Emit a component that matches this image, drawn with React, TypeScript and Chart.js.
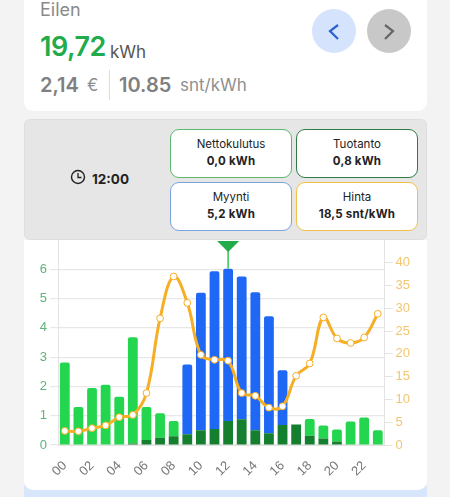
import React, { useEffect, useRef } from "react";
import { Chart, registerables } from "chart.js";

Chart.register(...registerables);

const hours = ["00","01","02","03","04","05","06","07","08","09","10","11","12","13","14","15","16","17","18","19","20","21","22","23"];
const production = [0,0,0,0,0,0.05,0.17,0.25,0.3,0.37,0.5,0.55,0.82,0.88,0.5,0.4,0.68,0.7,0.32,0.22,0.12,0,0,0];
const netConsumption = [2.82,1.3,1.95,2.06,1.65,3.63,1.13,0.83,0.52,0,0,0,0,0,0,0,0,0,0.57,0.45,0.41,0.8,0.94,0.5];
const sold = [0,0,0,0,0,0,0,0,0,2.38,4.7,5.38,5.2,4.87,4.72,4.0,1.87,0,0,0,0,0,0,0];
const price = [3.1,3.0,3.7,4.3,6.1,6.6,11.4,27.8,37,31.2,19.8,18.7,18.5,11.4,10.8,8.2,8.5,15.2,17.9,28,23.4,22.4,23.6,28.8];
const selectedHour = 12;

const FONT = "Inter, 'Noto Sans', sans-serif";
const TICK_FONT = "'Liberation Sans', sans-serif";

const markerPlugin = {
  id: "marker",
  afterDatasetsDraw(chart: any) {
    const { ctx, scales } = chart;
    const x = scales.x.getPixelForValue(selectedHour);
    const top = scales.y.getPixelForValue(production[selectedHour] + sold[selectedHour] + netConsumption[selectedHour]);
    ctx.save();
    ctx.strokeStyle = "#2fc45a";
    ctx.lineWidth = 1.5;
    ctx.beginPath();
    ctx.moveTo(x, 8);
    ctx.lineTo(x, top);
    ctx.stroke();
    ctx.fillStyle = "#22ab4a";
    ctx.beginPath();
    ctx.moveTo(x - 11, 1);
    ctx.lineTo(x + 11, 1);
    ctx.lineTo(x, 12);
    ctx.closePath();
    ctx.fill();
    ctx.restore();
  },
};

function Box(p: { left: number; top: number; color: string; title: string; value: string }) {
  return (
    <div style={{ position: "absolute", left: p.left, top: p.top, width: 122, height: 49, boxSizing: "border-box", border: `1.5px solid ${p.color}`, borderRadius: 9, background: "#fff", textAlign: "center", color: "#222" }}>
      <div style={{ fontSize: 11.5, lineHeight: "14px", marginTop: 7 }}>{p.title}</div>
      <div style={{ fontSize: 11.5, lineHeight: "14px", marginTop: 3, fontWeight: 700, letterSpacing: 0.2 }}>{p.value}</div>
    </div>
  );
}

const abs = (left: number, top: number, extra: React.CSSProperties): React.CSSProperties => ({ position: "absolute", left, top, whiteSpace: "nowrap", ...extra });

export default function App() {
  const ref = useRef<HTMLCanvasElement>(null);
  useEffect(() => {
    document.body.style.margin = "0";
    document.body.style.background = "#f3f3f3";
    const chart = new Chart(ref.current!, {
      type: "bar",
      data: {
        labels: hours,
        datasets: [
          { type: "line", label: "Hinta", data: price, yAxisID: "y1", borderColor: "#f6ae24", borderWidth: 3, tension: 0.4, pointRadius: 3.4, pointBorderWidth: 1, pointBackgroundColor: "#fff", pointBorderColor: "#f6ae24", order: 0 },
          { label: "Tuotanto", data: production, backgroundColor: "#147f2e", stack: "s", yAxisID: "y", barPercentage: 0.72, categoryPercentage: 1, borderRadius: 0, order: 1 },
          { label: "Myynti", data: sold, backgroundColor: "#1f68f5", stack: "s", yAxisID: "y", barPercentage: 0.72, categoryPercentage: 1, borderRadius: { topLeft: 2, topRight: 2 }, borderSkipped: false, order: 1 },
          { label: "Nettokulutus", data: netConsumption, backgroundColor: "#24d64f", stack: "s", yAxisID: "y", barPercentage: 0.72, categoryPercentage: 1, borderRadius: { topLeft: 2, topRight: 2 }, borderSkipped: false, order: 1 },
        ] as any,
      },
      plugins: [markerPlugin],
      options: {
        animation: false,
        responsive: false,
        layout: { autoPadding: false, padding: 0 },
        plugins: { legend: { display: false }, tooltip: { enabled: false } },
        scales: {
          x: {
            stacked: true,
            grid: { display: false, drawTicks: false },
            border: { color: "#e3e3e3" },
            ticks: { autoSkip: false, maxRotation: 45, minRotation: 45, padding: 13, color: "#777", font: { size: 13, family: TICK_FONT }, callback: (_v: any, i: number) => (i % 2 === 0 ? hours[i] : "") },
            afterFit: (s: any) => { s.height = 45; s.paddingLeft = 0; s.paddingRight = 0; },
          },
          y: {
            stacked: true,
            min: 0,
            max: 7,
            ticks: { stepSize: 1, padding: 3, color: "#5fb27a", font: { size: 13, family: TICK_FONT }, callback: (v: any) => (v === 7 ? "" : v) },
            grid: { color: (c: any) => (c.tick.value === 7 ? "transparent" : "#e8e8e8"), tickLength: 8, lineWidth: 1.2 },
            border: { color: "#e3e3e3" },
            afterFit: (s: any) => { s.width = 34; s.paddingTop = 0; s.paddingBottom = 0; },
          },
          y1: {
            position: "right",
            min: 0,
            max: 45,
            ticks: { stepSize: 5, padding: 3, color: "#f2c66f", font: { size: 13, family: TICK_FONT }, callback: (v: any) => (v === 45 ? "" : v) },
            grid: { drawOnChartArea: false, color: (c: any) => (c.tick.value === 45 ? "transparent" : "#e3e3e3"), tickLength: 8 },
            border: { color: "#e3e3e3" },
            afterFit: (s: any) => { s.width = 42.4; s.paddingTop = 0; s.paddingBottom = 0; },
          },
        },
      } as any,
    });
    return () => chart.destroy();
  }, []);

  return (
    <div style={{ position: "relative", width: 450, height: 497, overflow: "hidden", background: "#f3f3f3", fontFamily: FONT }}>
      <div style={{ position: "absolute", left: 24, top: -20, width: 403, height: 131, background: "#fff", borderRadius: 9 }} />
      <div style={abs(40, -1, { fontSize: 18, lineHeight: "22px", color: "#8a8a8a" })}>Eilen</div>
      <div style={abs(40, 28, { fontSize: 27, lineHeight: "38px", fontWeight: 600, color: "#22ab4a", letterSpacing: -0.5 })}>19,72</div>
      <div style={abs(110, 40, { fontSize: 17, lineHeight: "24px", color: "#555" })}>kWh</div>
      <div style={abs(40, 71, { fontSize: 20, lineHeight: "28px", fontWeight: 600, color: "#808080" })}>2,14</div>
      <div style={abs(87, 71, { fontSize: 17, lineHeight: "28px", color: "#8f8f8f" })}>€</div>
      <div style={{ position: "absolute", left: 109, top: 70, width: 1, height: 30, background: "#ddd" }} />
      <div style={abs(119, 71, { fontSize: 20, lineHeight: "28px", fontWeight: 600, color: "#808080" })}>10.85</div>
      <div style={abs(180, 72, { fontSize: 17, lineHeight: "26px", color: "#8f8f8f" })}>snt/kWh</div>

      <div style={{ position: "absolute", left: 312, top: 9, width: 44, height: 44, borderRadius: "50%", background: "#d5e3fd" }}>
        <svg width="44" height="44"><path d="M26 16 L18 22 L26 30" fill="none" stroke="#2a62d0" strokeWidth="2.2" /></svg>
      </div>
      <div style={{ position: "absolute", left: 367, top: 9, width: 44, height: 44, borderRadius: "50%", background: "#c8c8c8" }}>
        <svg width="44" height="44"><path d="M18 16 L26 22 L18 30" fill="none" stroke="#666" strokeWidth="2.2" /></svg>
      </div>

      <div style={{ position: "absolute", left: 24, top: 119, width: 403, height: 121, boxSizing: "border-box", background: "#e6e6e6", border: "1px solid #dedede", borderRadius: 6 }} />
      <svg style={{ position: "absolute", left: 70, top: 169 }} width="16" height="16">
        <circle cx="8" cy="8" r="6.5" fill="none" stroke="#222" strokeWidth="1.4" />
        <path d="M8 4 V8.5 H11.5" fill="none" stroke="#222" strokeWidth="1.3" />
      </svg>
      <div style={abs(92, 170, { fontSize: 13.5, lineHeight: "18px", fontWeight: 700, color: "#222" })}>12:00</div>
      <Box left={170} top={129} color="#5cb870" title="Nettokulutus" value="0,0 kWh" />
      <Box left={296} top={129} color="#2f7d45" title="Tuotanto" value="0,8 kWh" />
      <Box left={170} top={182} color="#7ba3e0" title="Myynti" value="5,2 kWh" />
      <Box left={296} top={182} color="#f5c04a" title="Hinta" value="18,5 snt/kWh" />

      <div style={{ position: "absolute", left: 24, top: 480, width: 403, height: 30, background: "#d8e6fb", borderRadius: 8 }} />
      <div style={{ position: "absolute", left: 24, top: 240, width: 403, height: 250, background: "#fff", borderRadius: "0 0 9px 9px" }}>
        <canvas ref={ref} width={403} height={250} style={{ display: "block" }} />
      </div>
    </div>
  );
}
